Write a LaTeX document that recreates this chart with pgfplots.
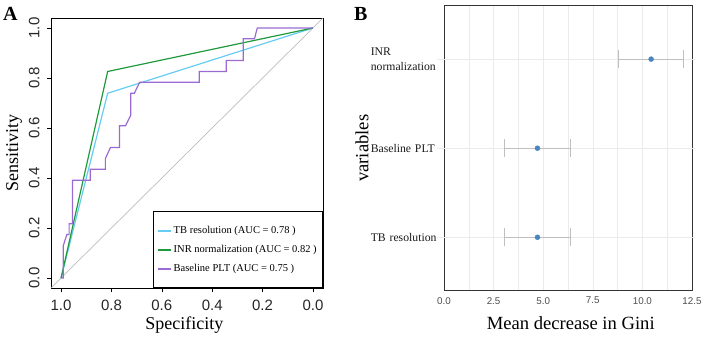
\documentclass[border=0pt]{standalone}
\usepackage{pgfplots}
\pgfplotsset{compat=1.18}
\usepackage{fontspec}
\setmainfont{Liberation Serif}
\setsansfont{Liberation Sans}

\definecolor{rocblue}{HTML}{66CCF2}
\definecolor{rocgreen}{HTML}{1E9A3C}
\definecolor{rocpurple}{HTML}{9B6BD3}
\definecolor{diaggrey}{HTML}{BDBDBD}
\definecolor{gridgrey}{HTML}{EBEBEB}
\definecolor{errgrey}{HTML}{BFBFBF}
\definecolor{dotblue}{HTML}{4A86BE}
\definecolor{ticktext}{HTML}{4D4D4D}

\begin{document}
\begin{tikzpicture}[x=1pt,y=1pt]
\path[use as bounding box] (0,0) rectangle (708,340);

% ---------------- Panel A: ROC curves ----------------
\begin{axis}[
  at={(51pt,52pt)}, anchor=south west,
  scale only axis, width=272pt, height=270pt,
  x dir=reverse,
  xmin=-0.04, xmax=1.04, ymin=-0.04, ymax=1.04,
  xtick={0,0.2,0.4,0.6,0.8,1}, ytick={0,0.2,0.4,0.6,0.8,1},
  tick pos=left, tick align=outside, major tick length=4pt,
  tick style={black, line width=0.6pt},
  axis line style={black, line width=0.7pt},
  /pgf/number format/.cd, fixed, fixed zerofill, precision=1, assume math mode=true,
  /pgfplots/.cd,
  ticklabel style={font=\fontsize{15}{18}\sffamily, text=black!85},
  xticklabel style={yshift=-4pt},
  yticklabel style={rotate=90, anchor=south},
  yticklabel shift=4pt,
  xlabel={Specificity}, ylabel={Sensitivity},
  label style={font=\fontsize{18}{20}\selectfont},
  xlabel style={at={(axis description cs:0.49,-0.155)}, anchor=base},
  ylabel style={at={(axis description cs:-0.1207,0.5)}, anchor=base},
  legend style={at={(axis description cs:1,0)}, anchor=south east,
    draw=black, line width=0.6pt, fill=white,
    font=\fontsize{10.5}{12}\selectfont,
    inner xsep=4pt, inner ysep=12pt, row sep=5pt,
    nodes={inner sep=2pt, text height=7.5pt, text depth=2.5pt}},
  legend cell align=left,
  legend image code/.code={\draw[#1, line width=1.6pt] (0pt,0pt) -- (13pt,0pt);},
]
% chance line
\addplot[diaggrey, line width=0.7pt, forget plot] coordinates {(1.04,-0.04) (-0.04,1.04)};
% TB resolution
\addplot[rocblue, line width=1.2pt] coordinates {(1,0) (0.815,0.739) (0,1)};
\addlegendentry{TB resolution (AUC = 0.78 )}
% INR normalization
\addplot[rocgreen, line width=1.2pt] coordinates {(1,0) (0.815,0.826) (0,1)};
\addlegendentry{INR normalization (AUC = 0.82 )}
% Baseline PLT
\addplot[rocpurple, line width=1.2pt] coordinates {
  (1.000,0.000) (0.991,0.000) (0.991,0.130) (0.977,0.174) (0.968,0.174)
  (0.968,0.217) (0.955,0.217) (0.955,0.391) (0.884,0.391) (0.884,0.435)
  (0.824,0.435) (0.824,0.478) (0.804,0.522) (0.768,0.522) (0.768,0.609)
  (0.744,0.609) (0.723,0.652) (0.723,0.739) (0.709,0.739) (0.688,0.783)
  (0.451,0.783) (0.451,0.826) (0.344,0.826) (0.344,0.870) (0.277,0.870)
  (0.277,0.957) (0.232,0.957) (0.221,1.000) (0.000,1.000)};
\addlegendentry{Baseline PLT (AUC = 0.75 )}
\end{axis}

% ---------------- Panel B: variable importance ----------------
\begin{axis}[
  at={(444pt,49.3pt)}, anchor=south west,
  scale only axis, width=248pt, height=285pt,
  xmin=0, xmax=12.5, ymin=0.4, ymax=3.6,
  clip=false,
  xtick={0,2.5,5,7.5,10,12.5},
  minor xtick={1.25,3.75,6.25,8.75,11.25},
  xmajorgrids, xminorgrids,
  major grid style={gridgrey, line width=0.5pt},
  minor grid style={gridgrey, line width=0.5pt},
  ytick={1,2,3},
  yticklabels={TB resolution, Baseline PLT, {INR\\normalization}},
  tick style={draw=none},
  axis line style={black!80, line width=0.9pt},
  /pgf/number format/.cd, fixed, fixed zerofill, precision=1, assume math mode=true,
  /pgfplots/.cd,
  xticklabel style={font=\fontsize{9.8}{11}\sffamily, text=ticktext, yshift=-3pt},
  yticklabel style={font=\fontsize{11.7}{14.5}\selectfont, text=black!90,
    anchor=east, inner sep=0pt, text width=66pt, align=left, xshift=-7pt},
  xlabel={Mean decrease in Gini}, ylabel={variables},
  label style={font=\fontsize{18.6}{20}\selectfont},
  xlabel style={at={(axis description cs:0.511,-0.1344)}, anchor=base},
  ylabel style={at={(axis description cs:-0.305,0.5)}, anchor=base},
]
% horizontal guide lines at each variable
\addplot[gridgrey, line width=0.6pt, forget plot] coordinates {(-0.35,1) (12.65,1)};
\addplot[gridgrey, line width=0.6pt, forget plot] coordinates {(-0.35,2) (12.65,2)};
\addplot[gridgrey, line width=0.6pt, forget plot] coordinates {(-0.35,3) (12.65,3)};
% mean decrease in Gini with interval
\addplot[only marks, mark=*, mark size=2.5pt, mark options={fill=dotblue, draw=dotblue},
  error bars/.cd, x dir=both, x explicit,
  error mark=|,
  error bar style={errgrey, line width=0.8pt},
  error mark options={errgrey, mark size=9pt, line width=0.8pt}]
  coordinates {
    (4.71,1) +- (1.65,0)
    (4.71,2) +- (1.65,0)
    (10.44,3) +- (1.64,0)
  };
\end{axis}

% panel letters
\node[anchor=base west, font=\fontsize{20}{20}\selectfont\bfseries, inner sep=0pt] at (3,319) {A};
\node[anchor=base west, font=\fontsize{20}{20}\selectfont\bfseries, inner sep=0pt] at (354,319) {B};
\end{tikzpicture}
\end{document}
